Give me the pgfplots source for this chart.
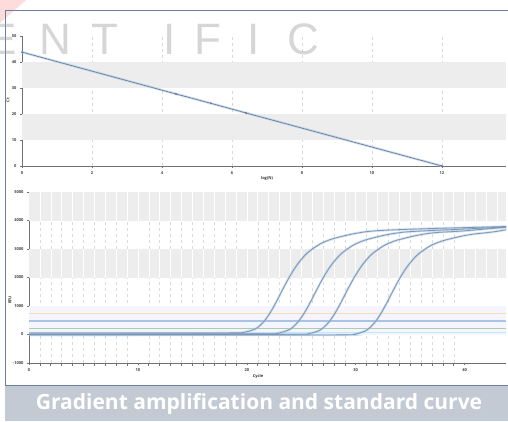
\documentclass[border=0pt]{standalone}
\usepackage{fontspec}
\setmainfont{Open Sans}
\newfontfamily\wmfont{Liberation Sans}
\usepackage{pgfplots}
\pgfplotsset{compat=1.18}
\definecolor{framec}{HTML}{6A7F9C}
\definecolor{bandc}{HTML}{EDEDED}
\definecolor{curvec}{HTML}{8194B0}
\definecolor{glowc}{HTML}{A9CBEE}
\definecolor{thrc}{HTML}{A9C3E2}
\definecolor{thrg}{HTML}{A8CFA8}
\definecolor{capc}{HTML}{C3CAD4}
\definecolor{axisc}{HTML}{707070}
\pgfplotsset{
  myaxis/.style={
    scale only axis,
    axis x line*=bottom, axis y line*=left,
    axis line style={axisc, line width=0.9pt},
    tick style={axisc, line width=0.6pt},
    tick align=outside,
    major tick length=2pt,
    tick label style={font=\fontsize{4}{4}\selectfont\bfseries, text=black!75},
    /pgf/number format/.cd, 1000 sep={}, assume math mode=true,
  },
  glow/.style={color=glowc, line width=2.4pt, opacity=0.55, smooth},
  amp/.style={color=curvec, line width=0.8pt, smooth},
}
\begin{document}
\begin{tikzpicture}
\useasboundingbox (0pt,0pt) rectangle (508pt,421pt);
\fill[white] (0pt,0pt) rectangle (508pt,421pt);
\fill[red!30, opacity=0.45] (0pt,421pt) -- (26pt,421pt) -- (0pt,398pt) -- cycle;
\draw[framec, line width=0.8pt] (5.5pt,36pt) rectangle (530pt,410.5pt);
% ---------------- top: standard curve
\begin{axis}[myaxis, at={(22pt,255pt)}, anchor=south west,
  width=484pt, height=130pt,
  xmin=0, xmax=13.83, ymin=0, ymax=50,
  xtick={0,2,...,12}, ytick={0,10,...,50},
  xmajorgrids, ymajorgrids=false,
  major grid style={black!15, dashed},
  scaled ticks=false, clip=true]
\fill[bandc] (axis cs:0,30) rectangle (axis cs:13.83,40);
\fill[bandc] (axis cs:0,10) rectangle (axis cs:13.83,20);
\addplot[color=glowc, line width=2.4pt, opacity=0.6] coordinates {(0,43.8) (12,0)};
\addplot[color=curvec!85!black, line width=0.7pt, mark=*, mark size=0.6pt] coordinates {(0,43.8) (4.4,27.7) (5.4,24.1) (6.4,20.4) (12,0)};
\end{axis}
% ---------------- bottom: amplification curves
\pgfplotstableread{
x y
0 50
12 52
18.7 57
19.7 74
20.7 180
21.2 312
21.7 517
22.2 799
22.7 1138
23.2 1511
23.7 1875
24.2 2205
24.7 2488
25.2 2721
25.7 2908
26.7 3171
27.7 3335
28.7 3439
29.7 3527
30.7 3593
31.7 3634
33.7 3676
38 3730
44 3790
}\cA
\pgfplotstableread{
x y
0 20
12 22
21.8 27
22.8 44
23.8 150
24.3 282
24.8 487
25.3 769
25.8 1108
26.3 1481
26.8 1845
27.3 2175
27.8 2458
28.3 2691
28.8 2878
29.8 3141
30.8 3305
31.8 3409
32.8 3497
33.8 3563
34.8 3604
36.8 3646
40 3700
44 3780
}\cB
\pgfplotstableread{
x y
0 0
15 2
24.6 7
25.6 24
26.6 130
27.1 262
27.6 467
28.1 749
28.6 1088
29.1 1461
29.6 1825
30.1 2155
30.6 2438
31.1 2671
31.6 2858
32.6 3121
33.6 3285
34.6 3389
35.6 3477
36.6 3543
37.6 3584
39.6 3626
41.6 3690
44 3770
}\cC
\pgfplotstableread{
x y
0 -20
18 -18
28.8 -13
29.8 4
30.8 110
31.3 242
31.8 447
32.3 729
32.8 1068
33.3 1441
33.8 1805
34.3 2135
34.8 2418
35.3 2651
35.8 2838
36.8 3101
37.8 3265
38.8 3369
39.8 3457
40.8 3523
41.8 3564
42.8 3610
44 3690
}\cD
\begin{axis}[myaxis, at={(29pt,58pt)}, anchor=south west,
  width=477pt, height=171pt,
  xmin=0, xmax=43.8, ymin=-1000, ymax=5000,
  xtick={0,10,...,40}, ytick={-1000,0,...,5000},
  minor x tick num=9, xminorgrids,
  minor grid style={black!14, dashed},
  scaled ticks=false, clip=true]
\fill[bandc] (axis cs:0,4000) rectangle (axis cs:43.8,5000);
\fill[bandc] (axis cs:0,2000) rectangle (axis cs:43.8,3000);
\fill[blue!4] (axis cs:0,0) rectangle (axis cs:43.8,1000);
\pgfplotsinvokeforeach{1,...,43}{
  \draw[white, line width=0.5pt] (axis cs:#1,4000) -- (axis cs:#1,5000);
  \draw[white, line width=0.5pt] (axis cs:#1,2000) -- (axis cs:#1,3000);
}
\addplot[color=orange!30, line width=0.5pt] coordinates {(0,760) (43.8,760)};
\addplot[color=thrc, line width=2pt] coordinates {(0,490) (43.8,490)};
\addplot[color=thrg, line width=1pt] coordinates {(0,200) (43.8,200)};
\addplot[color=cyan!25, line width=1.2pt] coordinates {(0,60) (43.8,60)};
\addplot[glow] table {\cA};
\addplot[glow] table {\cB};
\addplot[glow] table {\cC};
\addplot[glow] table {\cD};
\addplot[amp] table {\cA};
\addplot[amp] table {\cB};
\addplot[amp] table {\cC};
\addplot[amp] table {\cD};
\end{axis}
% axis labels
\node[font=\fontsize{4}{4}\selectfont\bfseries, text=black!80] at (267pt,243pt) {log(N)};
\node[font=\fontsize{4}{4}\selectfont\bfseries, text=black!80, rotate=90] at (8pt,321pt) {Ct};
\node[font=\fontsize{4}{4}\selectfont\bfseries, text=black!80] at (258pt,45pt) {Cycle};
\node[font=\fontsize{4}{4}\selectfont\bfseries, text=black!80, rotate=90] at (10pt,121pt) {RFU};
% watermark
\begin{scope}[opacity=0.45]
\foreach \l/\xx in {E/2,N/55,T/105,I/170,F/208,I/254,C/303}{
  \node[font=\wmfont\fontsize{44}{44}\selectfont, text=black!35, inner sep=0pt, anchor=base] at (\xx pt,366pt) {\l};
}
\end{scope}
% caption band
\fill[capc] (5pt,0pt) rectangle (508pt,35pt);
\node[font=\fontsize{21}{22}\selectfont\bfseries, text=white] at (259pt,17.5pt) {Gradient amplification and standard curve};
\end{tikzpicture}
\end{document}
